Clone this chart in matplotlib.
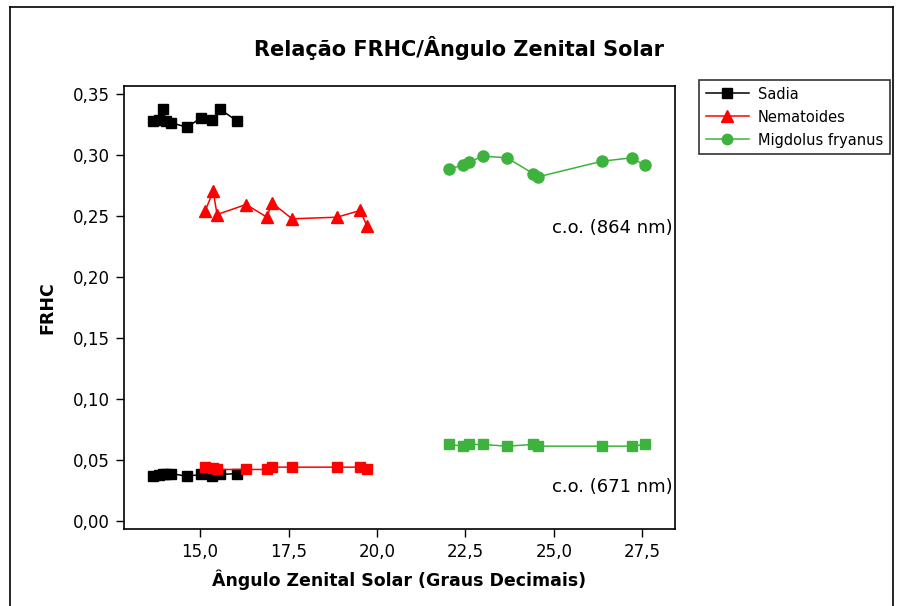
import matplotlib
matplotlib.use("Agg")
import matplotlib.pyplot as plt
from matplotlib.lines import Line2D

plt.rcParams['font.family'] = ['DejaVu Sans']

# Data
sadia_x = [13.67, 13.84, 13.95, 14.04, 14.18, 14.63, 15.03, 15.34, 15.56, 16.05]
sadia_864 = [0.3277, 0.3285, 0.3381, 0.3277, 0.3264, 0.3228, 0.3305, 0.3285, 0.3377, 0.3277]
sadia_671 = [0.0367, 0.0375, 0.0381, 0.0381, 0.0388, 0.0367, 0.0381, 0.0367, 0.0381, 0.0388]

nema_x = [15.14, 15.37, 15.48, 16.30, 16.89, 17.03, 17.60, 18.87, 19.52, 19.72]
nema_864 = [0.2539, 0.2703, 0.2512, 0.2594, 0.2490, 0.2608, 0.2477, 0.2490, 0.2545, 0.2416]
nema_671 = [0.0441, 0.0430, 0.0422, 0.0422, 0.0422, 0.0441, 0.0441, 0.0441, 0.0441, 0.0422]

migd_x = [22.03, 22.43, 22.60, 22.99, 23.67, 24.41, 24.55, 26.36, 27.20, 27.57]
migd_864 = [0.2889, 0.2914, 0.2941, 0.2990, 0.2977, 0.2848, 0.2821, 0.2949, 0.2977, 0.2914]
migd_671 = [0.0627, 0.0613, 0.0627, 0.0627, 0.0613, 0.0627, 0.0613, 0.0613, 0.0613, 0.0627]

x_ticks = [15.0, 17.5, 20.0, 22.5, 25.0, 27.5]
x_ticklabels = ["15,0", "17,5", "20,0", "22,5", "25,0", "27,5"]
y_ticks = [0.00, 0.05, 0.10, 0.15, 0.20, 0.25, 0.30, 0.35]
y_ticklabels = ["0,00", "0,05", "0,10", "0,15", "0,20", "0,25", "0,30", "0,35"]

GREEN = "#3db33d"
RED = "#ff0000"
BLACK = "#000000"

fig = plt.figure(figsize=(9.0, 6.06), dpi=100)
ax = fig.add_axes([124/900, 1-529/606, (675-124)/900, (529-85.7)/606])

# upper series (864 nm)
ax.plot(sadia_x, sadia_864, color=BLACK, marker='s', ms=7.5, lw=1.1, label="Sadia")
ax.plot(nema_x, nema_864, color=RED, marker='^', ms=8.5, lw=1.1, label="Nematoides")
ax.plot(migd_x, migd_864, color=GREEN, marker='o', ms=8, lw=1.1, label="Migdolus fryanus")
# lower series (671 nm)
ax.plot(sadia_x, sadia_671, color=BLACK, marker='s', ms=7.5, lw=1.1)
ax.plot(nema_x, nema_671, color=RED, marker='s', ms=7.5, lw=1.1)
ax.plot(migd_x, migd_671, color=GREEN, marker='s', ms=7.5, lw=1.1)

ax.set_xlim(12.85, 28.42)
ax.set_ylim(-0.0066, 0.3568)
ax.set_xticks(x_ticks)
ax.set_xticklabels(x_ticklabels, fontsize=12)
ax.set_yticks(y_ticks)
ax.set_yticklabels(y_ticklabels, fontsize=12)
ax.tick_params(direction='out', length=6, width=1, pad=4)
for s in ax.spines.values():
    s.set_linewidth(1.2)

ax.set_xlabel("Ângulo Zenital Solar (Graus Decimais)", fontsize=12.5, fontweight='bold', labelpad=6)
ax.set_ylabel("FRHC", fontsize=12.5, fontweight='bold', labelpad=12)
fig.text(459/900, 1-48/606, "Relação FRHC/Ângulo Zenital Solar", fontsize=15,
         fontweight='bold', ha='center', va='center')

ax.annotate("c.o. (864 nm)", xy=(673/900, 1-228/606), xycoords='figure fraction',
            ha='right', va='center', fontsize=13)
ax.annotate("c.o. (671 nm)", xy=(673/900, 1-487/606), xycoords='figure fraction',
            ha='right', va='center', fontsize=13)

handles = [
    Line2D([], [], color=BLACK, marker='s', ms=7, lw=1.1),
    Line2D([], [], color=RED, marker='^', ms=8, lw=1.1),
    Line2D([], [], color=GREEN, marker='o', ms=7.5, lw=1.1),
]
leg = fig.legend(handles, ["Sadia", "Nematoides", "Migdolus fryanus"],
                 loc='upper left', bbox_to_anchor=(699/900, 1-80/606),
                 fontsize=10.5, frameon=True, fancybox=False, edgecolor='black',
                 borderaxespad=0, handlelength=3.0, borderpad=0.45, labelspacing=0.55,
                 handletextpad=0.6)
leg.get_frame().set_linewidth(1.2)

# outer border
for xs, ys in [([10, 10], [606, 7]), ([10, 893], [7, 7]), ([893, 893], [7, 606])]:
    fig.add_artist(Line2D([x/900 for x in xs], [1-y/606 for y in ys],
                          color='black', lw=1.2, transform=fig.transFigure))

fig.savefig("out.png", dpi=100)
